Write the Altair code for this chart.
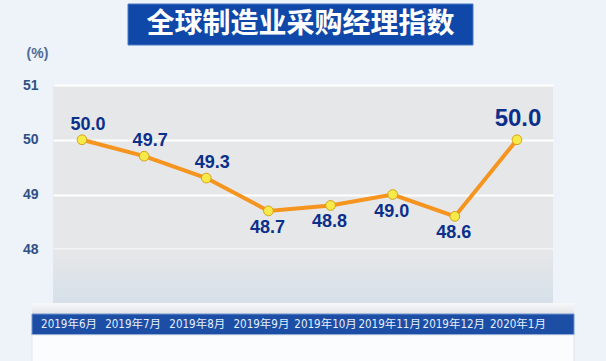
import altair as alt
import pandas as pd

# ---- data ----
months = ["2019年6月", "2019年7月", "2019年8月", "2019年9月",
          "2019年10月", "2019年11月", "2019年12月", "2020年1月"]
pmi = [50.0, 49.7, 49.3, 48.7, 48.8, 49.0, 48.6, 50.0]
y_ticks = [48, 49, 50, 51]
title_text = "全球制造业采购经理指数"
unit_text = "(%)"

# label placement groups (style)
above_small = months[:3]
below_small = months[3:7]
above_big = months[7:]

df = pd.DataFrame({"month": months, "pmi": pmi})
df["label"] = [f"{v:.1f}" for v in pmi]

NUM_FONT = "Liberation Sans"
CJK_FONT = "Noto Sans CJK SC"
LABEL_COLOR = "#0b2f8a"

xs = alt.Scale(type="point", domain=months, padding=0.523, align=0.446)
ys = alt.Scale(domain=[47, 51], nice=False, zero=False)

X = alt.X("month:N", scale=xs, axis=None, sort=months)
Y = alt.Y("pmi:Q", scale=ys,
          axis=alt.Axis(values=y_ticks, format="d", grid=True, gridColor="white", gridWidth=2,
                        ticks=False, domain=False, labelPadding=15,
                        labelFont=NUM_FONT, labelFontSize=14, labelFontWeight="bold",
                        labelColor="#2f4f86",
                        title=unit_text, titleAngle=0, titleX=-16, titleY=-32,
                        titleAlign="center", titleBaseline="middle",
                        titleFont=NUM_FONT, titleFontSize=14, titleFontWeight="bold",
                        titleColor="#4f6a98"))

base = alt.Chart(df)

# lower gradient of plot area (47-48)
grad_df = pd.DataFrame({"a": [47.0], "b": [48.0]})
lower = alt.Chart(grad_df).mark_rect(
    color=alt.Gradient(gradient="linear", x1=0, x2=0, y1=0, y2=1,
                       stops=[alt.GradientStop(color="#e6e7e8", offset=0),
                              alt.GradientStop(color="#d6e0e9", offset=1)])
).encode(x=alt.value(0), x2=alt.value(500),
         y=alt.Y("b:Q", scale=ys), y2="a:Q")

# 3D box under plot
box_top = alt.Chart(grad_df).mark_rect(
    color=alt.Gradient(gradient="linear", x1=0, x2=0, y1=0, y2=1,
                       stops=[alt.GradientStop(color="#f7f8f9", offset=0),
                              alt.GradientStop(color="#e2e5e8", offset=1)])
).encode(x=alt.value(-21), x2=alt.value(521), y=alt.value(218), y2=alt.value(229))
box_band = alt.Chart(grad_df).mark_rect(color="#1c4ea6", stroke="#6f93cf", strokeWidth=1).encode(
    x=alt.value(-21), x2=alt.value(521), y=alt.value(229), y2=alt.value(250))
box_low = alt.Chart(grad_df).mark_rect(color="#fbfcfd", stroke="#e1e6eb", strokeWidth=1).encode(
    x=alt.value(-21), x2=alt.value(521), y=alt.value(250), y2=alt.value(278))

# title box
tbox = alt.Chart(grad_df).mark_rect(color="#0f48a8", stroke="#4a78c4", strokeWidth=1).encode(
    x=alt.value(75), x2=alt.value(420), y=alt.value(-81), y2=alt.value(-40))
ttext = alt.Chart(pd.DataFrame({"t": [title_text]})).mark_text(
    font=CJK_FONT, fontSize=28, fontWeight="bold", color="white",
    align="center", baseline="middle").encode(
    x=alt.value(247.5), y=alt.value(-60), text="t:N")

line = base.mark_line(color="#f5941e", strokeWidth=4).encode(x=X, y=Y)
pts = base.mark_point(filled=True, size=95, fill="#f6ea48", stroke="#d6a21c",
                      strokeWidth=1, opacity=1).encode(x=X, y="pmi:Q")

lab_above = base.transform_filter(alt.FieldOneOfPredicate(field="month", oneOf=above_small)).mark_text(
    font=NUM_FONT, fontSize=18, fontWeight="bold", color=LABEL_COLOR, dy=-15, dx=6,
    baseline="middle").encode(x=X, y="pmi:Q", text="label:N")
lab_below = base.transform_filter(alt.FieldOneOfPredicate(field="month", oneOf=below_small)).mark_text(
    font=NUM_FONT, fontSize=18, fontWeight="bold", color=LABEL_COLOR, dy=17, dx=-1,
    baseline="middle").encode(x=X, y="pmi:Q", text="label:N")
lab_big = base.transform_filter(alt.FieldOneOfPredicate(field="month", oneOf=above_big)).mark_text(
    font=NUM_FONT, fontSize=24, fontWeight="bold", color=LABEL_COLOR, dy=-21, dx=1,
    baseline="middle").encode(x=X, y="pmi:Q", text="label:N")

band_scale = alt.Scale(type="point", domain=months, padding=0.398, align=0.314)
band_labels = base.mark_text(
    font="Liberation Sans Narrow, DejaVu Sans Condensed, " + CJK_FONT, fontSize=11.5,
    color="#e6eefa", align="center", baseline="middle").encode(
    x=alt.X("month:N", scale=band_scale, axis=None, sort=months),
    y=alt.value(240), text="month:N")

chart = alt.layer(
    lower, box_top, box_band, box_low, tbox, ttext,
    line, pts, lab_above, lab_below, lab_big, band_labels
).resolve_scale(x="independent").properties(
    width=500, height=219,
    autosize=alt.AutoSizeParams(type="none"),
    padding={"left": 53, "top": 85, "right": 53, "bottom": 57},
    background="#edf3f9",
).configure_view(fill="#e6e7e8", stroke=None)

chart.save("out.html", embed_options={"renderer": "svg", "actions": False})
